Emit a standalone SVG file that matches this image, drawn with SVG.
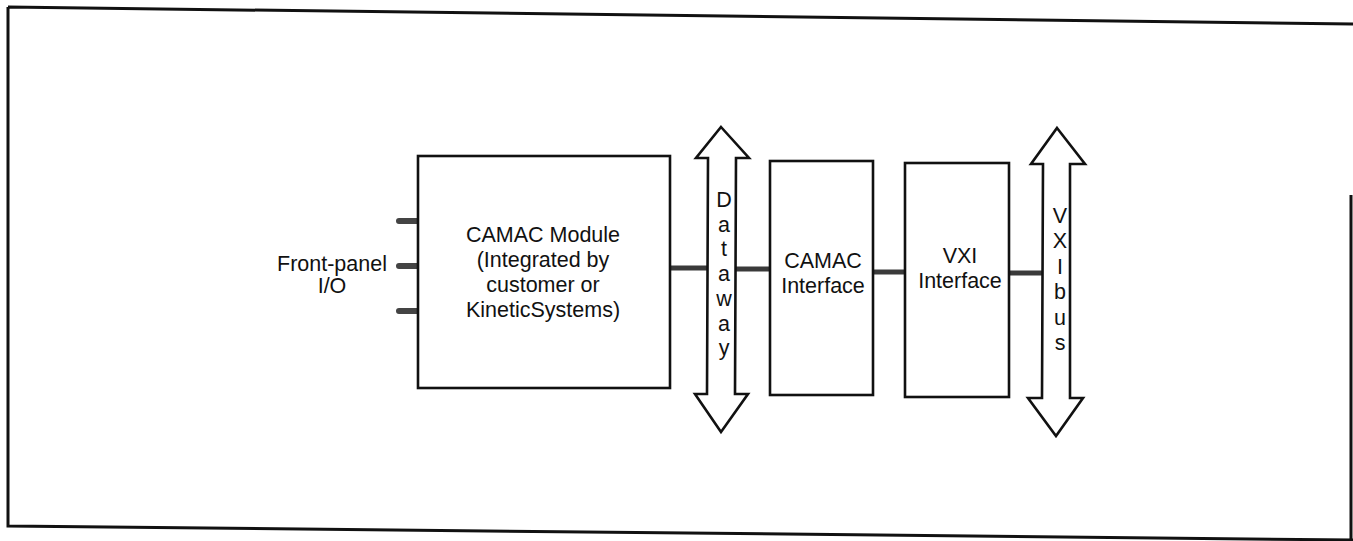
<svg xmlns="http://www.w3.org/2000/svg" width="1353" height="541" viewBox="0 0 1353 541">
<style>
.frame{fill:none;stroke:#111;stroke-width:3}
.box{fill:#fff;stroke:#111;stroke-width:2.6}
.bus{fill:#fff;stroke:#111;stroke-width:2.6;stroke-linejoin:miter}
.wire{fill:none;stroke:#3a3a3a;stroke-width:5}
.stub{fill:none;stroke:#444;stroke-width:6;stroke-linecap:round}
text{font-family:"Liberation Sans",Arial,sans-serif;font-size:21.5px;fill:#111;text-anchor:middle}
</style>
<g id="frame">
<path class="frame" d="M8,7 L1353,24 M8,7 L8,526 L1353,540 M1351,195 L1351,541"/>
</g>
<g id="connectors">
<path class="wire" d="M670,268 L709,268"/>
<path class="wire" d="M735,269 L770,269"/>
<path class="wire" d="M873,272 L905,272"/>
<path class="wire" d="M1009,273 L1043,273"/>
<path class="stub" d="M399,221 L418,221 M399,266 L418,266 M399,311 L418,311"/>
</g>
<g id="front-panel">
<text x="332" y="271">Front-panel</text>
<text x="332" y="293">I/O</text>
</g>
<g id="camac-module">
<rect class="box" x="418" y="156" width="252" height="232"/>
<text x="543" y="242">CAMAC Module</text>
<text x="543" y="267">(Integrated by</text>
<text x="543" y="292">customer or</text>
<text x="543" y="317">KineticSystems)</text>
</g>
<g id="dataway">
<path class="bus" d="M721,127 L749,158 L736,158 L735,394 L748,394 L721,432 L695,394 L707,394 L708,158 L696,158 Z"/>
<text x="724" y="207">D</text>
<text x="724" y="232">a</text>
<text x="724" y="256">t</text>
<text x="724" y="281">a</text>
<text x="724" y="306">w</text>
<text x="724" y="331">a</text>
<text x="724" y="355">y</text>
</g>
<g id="camac-interface">
<rect class="box" x="770" y="161" width="103" height="234"/>
<text x="823" y="268">CAMAC</text>
<text x="823" y="293">Interface</text>
</g>
<g id="vxi-interface">
<rect class="box" x="905" y="163" width="104" height="234"/>
<text x="960" y="263">VXI</text>
<text x="960" y="288">Interface</text>
</g>
<g id="vxibus">
<path class="bus" d="M1057,128 L1085,164 L1070,164 L1070,398 L1083,398 L1056,436 L1028,398 L1042,398 L1043,164 L1031,164 Z"/>
<text x="1060" y="223">V</text>
<text x="1060" y="248">X</text>
<text x="1060" y="274">I</text>
<text x="1060" y="299">b</text>
<text x="1060" y="325">u</text>
<text x="1060" y="350">s</text>
</g>
</svg>
